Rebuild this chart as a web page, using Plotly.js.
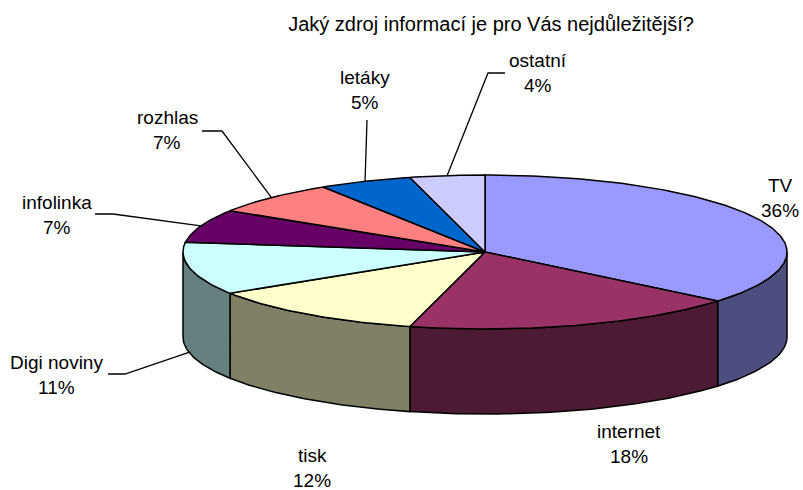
<!DOCTYPE html>
<html>
<head>
<meta charset="utf-8">
<script src="https://cdn.plot.ly/plotly-3.0.1.min.js"></script>
<style>html,body{margin:0;padding:0;background:#fff}#chart{width:803px;height:490px}</style>
</head>
<body>
<div id="chart"></div>
<script>
// ---- data ----
const categories = ['TV', 'internet', 'tisk', 'Digi noviny', 'infolinka', 'rozhlas', 'letáky', 'ostatní'];
const values = [36, 18, 12, 11, 7, 7, 5, 4];
const pctLabels = ['36%', '18%', '12%', '11%', '7%', '7%', '5%', '4%'];
const chartTitle = 'Jaký zdroj informací je pro Vás nejdůležitější?';

// ---- styles ----
const topColors  = ['#9999FF', '#993366', '#FFFFCC', '#CCFFFF', '#660066', '#FF8080', '#0066CC', '#CCCCFF'];
const sideColors = ['#4D4D80', '#4D1A33', '#808066', '#668080', '#330033', '#804040', '#003366', '#666680'];

// ---- geometry (pixel space of the plot area) ----
const CX = 485, CY = 252, RA = 302, RB = 77, DEPTH = 85;
// label positions (centre of the name line) and leader elbows
const labelX = [780, 629, 312, 56, 57, 167, 365, 538];
const labelY = [185, 431, 455, 362, 202, 117, 77, 60];
const lineGap = 25;
const leaderElbows = [
  null, null, null,
  [[108, 374], [125, 374]],
  [[95, 214], [113, 214]],
  [[202, 131], [222, 131]],
  [[367, 120]],
  [[505, 73], [488, 73]]
];

function pt(deg, dy) {
  const r = deg * Math.PI / 180;
  return [CX + RA * Math.sin(r), CY - RB * Math.cos(r) + (dy || 0)];
}
function arc(d1, d2, dy) {
  const n = Math.max(2, Math.ceil(Math.abs(d2 - d1)));
  const out = [];
  for (let i = 0; i <= n; i++) out.push(pt(d1 + (d2 - d1) * i / n, dy));
  return out;
}

const total = values.reduce((s, v) => s + v, 0);
const starts = [], ends = [];
let acc = 0;
values.forEach(v => { starts.push(acc / total * 360); acc += v; ends.push(acc / total * 360); });

const traces = [];
// side walls (front half: 90..270 degrees)
values.forEach((v, i) => {
  const a1 = Math.max(starts[i], 90), a2 = Math.min(ends[i], 270);
  if (a2 <= a1) return;
  const pts = arc(a1, a2, 0).concat(arc(a2, a1, DEPTH));
  pts.push(pts[0]);
  traces.push({
    type: 'scatter', mode: 'lines', fill: 'toself',
    x: pts.map(p => p[0]), y: pts.map(p => p[1]),
    fillcolor: sideColors[i], line: {color: '#000', width: 1.5},
    hoverinfo: 'skip', showlegend: false
  });
});
// top faces
values.forEach((v, i) => {
  const pts = [[CX, CY]].concat(arc(starts[i], ends[i], 0));
  pts.push([CX, CY]);
  traces.push({
    type: 'scatter', mode: 'lines', fill: 'toself',
    x: pts.map(p => p[0]), y: pts.map(p => p[1]),
    fillcolor: topColors[i], line: {color: '#000', width: 1.5},
    hoverinfo: 'skip', showlegend: false
  });
});
// leader lines
values.forEach((v, i) => {
  if (!leaderElbows[i]) return;
  const mid = (starts[i] + ends[i]) / 2;
  const end = pt(mid, (mid > 90 && mid < 270) ? DEPTH - 2 : 0);
  const pts = leaderElbows[i].concat([end]);
  traces.push({
    type: 'scatter', mode: 'lines',
    x: pts.map(p => p[0]), y: pts.map(p => p[1]),
    line: {color: '#000', width: 1.3},
    hoverinfo: 'skip', showlegend: false
  });
});

const font = {family: 'Liberation Sans, Arial, sans-serif', size: 19, color: '#000'};
const annotations = [];
categories.forEach((c, i) => {
  annotations.push({x: labelX[i], y: labelY[i], xref: 'x', yref: 'y', text: c, showarrow: false,
    xanchor: 'center', yanchor: 'middle', font: font});
  annotations.push({x: labelX[i], y: labelY[i] + lineGap, xref: 'x', yref: 'y', text: pctLabels[i], showarrow: false,
    xanchor: 'center', yanchor: 'middle', font: font});
});

const layout = {
  width: 803, height: 490,
  margin: {l: 0, r: 0, t: 0, b: 0},
  paper_bgcolor: '#fff', plot_bgcolor: '#fff',
  title: {text: chartTitle, x: 491 / 803, xref: 'paper', xanchor: 'center',
          y: 1 - 24 / 490, yref: 'container', yanchor: 'middle',
          font: {family: 'Liberation Sans, Arial, sans-serif', size: 20, color: '#000'}},
  xaxis: {range: [0, 803], visible: false, fixedrange: true},
  yaxis: {range: [490, 0], visible: false, fixedrange: true},
  annotations: annotations,
  showlegend: false
};

Plotly.newPlot('chart', traces, layout, {staticPlot: true, displayModeBar: false});
</script>
</body>
</html>
